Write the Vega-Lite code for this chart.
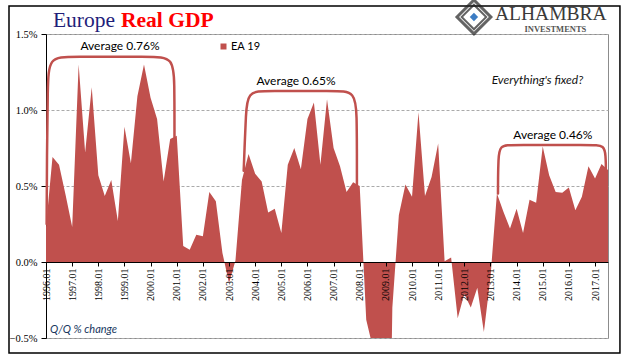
{
  "$schema": "https://vega.github.io/schema/vega-lite/v6.json",
  "width": 562,
  "height": 304,
  "autosize": {"type": "none"},
  "padding": {"left": 46, "top": 34, "right": 33, "bottom": 23},
  "background": "white",
  "config": {"view": {"stroke": "#8c8c8c", "strokeWidth": 1}},
  "datasets": {
    "gdp": [
      {"date": "1996-01-01", "value": 0.23}, {"date": "1996-04-01", "value": 0.69}, {"date": "1996-07-01", "value": 0.64}, {"date": "1996-10-01", "value": 0.44},
      {"date": "1997-01-01", "value": 0.23}, {"date": "1997-04-01", "value": 1.30}, {"date": "1997-07-01", "value": 0.72}, {"date": "1997-10-01", "value": 1.15},
      {"date": "1998-01-01", "value": 0.57}, {"date": "1998-04-01", "value": 0.435}, {"date": "1998-07-01", "value": 0.54}, {"date": "1998-10-01", "value": 0.27},
      {"date": "1999-01-01", "value": 0.89}, {"date": "1999-04-01", "value": 0.65}, {"date": "1999-07-01", "value": 1.09}, {"date": "1999-10-01", "value": 1.30},
      {"date": "2000-01-01", "value": 1.08}, {"date": "2000-04-01", "value": 0.94}, {"date": "2000-07-01", "value": 0.53}, {"date": "2000-10-01", "value": 0.81},
      {"date": "2001-01-01", "value": 0.83}, {"date": "2001-04-01", "value": 0.105}, {"date": "2001-07-01", "value": 0.08}, {"date": "2001-10-01", "value": 0.18},
      {"date": "2002-01-01", "value": 0.17}, {"date": "2002-04-01", "value": 0.46}, {"date": "2002-07-01", "value": 0.40}, {"date": "2002-10-01", "value": 0.06},
      {"date": "2003-01-01", "value": -0.14}, {"date": "2003-04-01", "value": 0.01}, {"date": "2003-07-01", "value": 0.54}, {"date": "2003-10-01", "value": 0.71},
      {"date": "2004-01-01", "value": 0.58}, {"date": "2004-04-01", "value": 0.53}, {"date": "2004-07-01", "value": 0.325}, {"date": "2004-10-01", "value": 0.35},
      {"date": "2005-01-01", "value": 0.19}, {"date": "2005-04-01", "value": 0.64}, {"date": "2005-07-01", "value": 0.75}, {"date": "2005-10-01", "value": 0.61},
      {"date": "2006-01-01", "value": 0.94}, {"date": "2006-04-01", "value": 1.05}, {"date": "2006-07-01", "value": 0.64}, {"date": "2006-10-01", "value": 1.07},
      {"date": "2007-01-01", "value": 0.75}, {"date": "2007-04-01", "value": 0.63}, {"date": "2007-07-01", "value": 0.46}, {"date": "2007-10-01", "value": 0.525},
      {"date": "2008-01-01", "value": 0.50}, {"date": "2008-04-01", "value": -0.38}, {"date": "2008-07-01", "value": -0.56}, {"date": "2008-10-01", "value": -1.7},
      {"date": "2009-01-01", "value": -3.0}, {"date": "2009-04-01", "value": -0.3}, {"date": "2009-07-01", "value": 0.31}, {"date": "2009-10-01", "value": 0.51},
      {"date": "2010-01-01", "value": 0.43}, {"date": "2010-04-01", "value": 0.985}, {"date": "2010-07-01", "value": 0.435}, {"date": "2010-10-01", "value": 0.56},
      {"date": "2011-01-01", "value": 0.78}, {"date": "2011-04-01", "value": 0.005}, {"date": "2011-07-01", "value": 0.03}, {"date": "2011-10-01", "value": -0.37},
      {"date": "2012-01-01", "value": -0.21}, {"date": "2012-04-01", "value": -0.30}, {"date": "2012-07-01", "value": -0.17}, {"date": "2012-10-01", "value": -0.46},
      {"date": "2013-01-01", "value": -0.10}, {"date": "2013-04-01", "value": 0.45}, {"date": "2013-07-01", "value": 0.33}, {"date": "2013-10-01", "value": 0.22},
      {"date": "2014-01-01", "value": 0.35}, {"date": "2014-04-01", "value": 0.19}, {"date": "2014-07-01", "value": 0.41}, {"date": "2014-10-01", "value": 0.39},
      {"date": "2015-01-01", "value": 0.76}, {"date": "2015-04-01", "value": 0.57}, {"date": "2015-07-01", "value": 0.46}, {"date": "2015-10-01", "value": 0.455},
      {"date": "2016-01-01", "value": 0.49}, {"date": "2016-04-01", "value": 0.34}, {"date": "2016-07-01", "value": 0.43}, {"date": "2016-10-01", "value": 0.63},
      {"date": "2017-01-01", "value": 0.55}, {"date": "2017-04-01", "value": 0.645}, {"date": "2017-07-01", "value": 0.605}
    ],
    "brackets": [
      {"period": "1996-2000", "order": 1, "date": "1996-01-10", "value": 0.25},
      {"period": "1996-2000", "order": 2, "date": "1996-01-14", "value": 0.70},
      {"period": "1996-2000", "order": 3, "date": "1996-01-25", "value": 1.15},
      {"period": "1996-2000", "order": 4, "date": "1996-02-10", "value": 1.35},
      {"period": "1996-2000", "order": 5, "date": "1996-12-01", "value": 1.35},
      {"period": "1996-2000", "order": 6, "date": "2000-01-10", "value": 1.35},
      {"period": "1996-2000", "order": 7, "date": "2000-11-20", "value": 1.35},
      {"period": "1996-2000", "order": 8, "date": "2000-11-28", "value": 1.15},
      {"period": "1996-2000", "order": 9, "date": "2000-11-30", "value": 1.00},
      {"period": "1996-2000", "order": 10, "date": "2000-11-30", "value": 0.82},
      {"period": "2003-2007", "order": 1, "date": "2003-07-25", "value": 0.60},
      {"period": "2003-2007", "order": 2, "date": "2003-08-10", "value": 0.80},
      {"period": "2003-2007", "order": 3, "date": "2003-08-25", "value": 0.95},
      {"period": "2003-2007", "order": 4, "date": "2003-09-10", "value": 1.125},
      {"period": "2003-2007", "order": 5, "date": "2004-06-15", "value": 1.125},
      {"period": "2003-2007", "order": 6, "date": "2007-01-10", "value": 1.125},
      {"period": "2003-2007", "order": 7, "date": "2007-11-05", "value": 1.125},
      {"period": "2003-2007", "order": 8, "date": "2007-11-20", "value": 0.95},
      {"period": "2003-2007", "order": 9, "date": "2007-11-23", "value": 0.75},
      {"period": "2003-2007", "order": 10, "date": "2007-11-23", "value": 0.51},
      {"period": "2013-2017", "order": 1, "date": "2013-04-16", "value": 0.45},
      {"period": "2013-2017", "order": 2, "date": "2013-04-16", "value": 0.55},
      {"period": "2013-2017", "order": 3, "date": "2013-04-22", "value": 0.67},
      {"period": "2013-2017", "order": 4, "date": "2013-05-05", "value": 0.77},
      {"period": "2013-2017", "order": 5, "date": "2013-11-10", "value": 0.77},
      {"period": "2013-2017", "order": 6, "date": "2016-11-05", "value": 0.77},
      {"period": "2013-2017", "order": 7, "date": "2017-05-15", "value": 0.77},
      {"period": "2013-2017", "order": 8, "date": "2017-05-28", "value": 0.69},
      {"period": "2013-2017", "order": 9, "date": "2017-06-01", "value": 0.65},
      {"period": "2013-2017", "order": 10, "date": "2017-06-01", "value": 0.60}
    ]
  },
  "encoding": {
    "x": {
      "field": "date",
      "type": "temporal",
      "scale": {
        "type": "utc",
        "nice": false,
        "domain": [{"year": 1996, "month": 1, "date": 1, "utc": true}, {"year": 2017, "month": 7, "date": 1, "utc": true}]
      },
      "axis": {
        "title": null,
        "format": "%Y.%m",
        "tickCount": {"interval": "year", "step": 1},
        "labelAngle": -90,
        "labelFont": "Liberation Serif",
        "labelFontSize": 10,
        "labelColor": "#000",
        "labelFlush": false,
        "labelOverlap": false,
        "labelBound": false,
        "labelPadding": 2,
        "tickSize": 4,
        "tickColor": "#000",
        "domainColor": "#000",
        "grid": false,
        "offset": -76,
        "zindex": 1
      }
    },
    "y": {
      "field": "value",
      "type": "quantitative",
      "stack": null,
      "scale": {"domain": [-0.5, 1.5], "nice": false, "zero": false},
      "axis": {
        "title": null,
        "values": [-0.5, 0, 0.5, 1, 1.5],
        "labelExpr": "format(datum.value, '.1f') + '%'",
        "labelFont": "Liberation Serif",
        "labelFontSize": 10.5,
        "labelColor": "#000",
        "labelPadding": 4,
        "tickSize": 5,
        "tickColor": "#000",
        "domainColor": "#000",
        "grid": true,
        "gridColor": "#aaaaaa",
        "gridDash": [3, 2],
        "gridWidth": 1
      }
    }
  },
  "layer": [
    {
      "data": {"values": [{"date": "1994-08-02", "date2": "2017-12-15", "value": 1.684, "value2": -0.599}]},
      "mark": {"type": "rect", "fillOpacity": 0, "stroke": "#000", "strokeWidth": 1.5},
      "encoding": {
        "x2": {"field": "date2"},
        "y2": {"field": "value2"}
      }
    },
    {
      "data": {"name": "gdp"},
      "mark": {"type": "area", "clip": true, "interpolate": "linear"},
      "encoding": {
        "color": {
          "datum": "EA 19",
          "type": "nominal",
          "scale": {"range": ["#C0504D"]},
          "legend": {
            "orient": "none",
            "legendX": 172,
            "legendY": 7,
            "title": null,
            "symbolType": "square",
            "symbolSize": 36,
            "symbolStrokeWidth": 0,
            "labelFont": "Lato",
            "labelFontSize": 11,
            "labelColor": "#000",
            "labelOffset": 2,
            "padding": 0
          }
        }
      }
    },
    {
      "data": {"name": "brackets"},
      "mark": {"type": "line", "interpolate": "basis", "color": "#C0504D", "strokeWidth": 2.5, "strokeCap": "round"},
      "encoding": {
        "detail": {"field": "period"},
        "order": {"field": "order", "type": "quantitative"}
      }
    },
    {
      "data": {"values": [
        {"label": "Average 0.76%", "date": "1998-10-31", "value": 1.395},
        {"label": "Average 0.65%", "date": "2005-07-25", "value": 1.165},
        {"label": "Average 0.46%", "date": "2015-05-23", "value": 0.81}
      ]},
      "mark": {"type": "text", "font": "Lato", "fontSize": 12, "color": "#000", "align": "center", "baseline": "alphabetic"},
      "encoding": {"text": {"field": "label"}}
    },
    {
      "data": {"values": [{"label": "Everything's fixed?", "date": "2014-10-19", "value": 1.17}]},
      "mark": {"type": "text", "font": "Lato", "fontSize": 12, "fontStyle": "italic", "color": "#111", "align": "center", "baseline": "alphabetic"},
      "encoding": {"text": {"field": "label"}}
    },
    {
      "data": {"values": [{"label": "Q/Q % change", "date": "1996-02-26", "value": -0.467}]},
      "mark": {"type": "text", "font": "Lato", "fontSize": 11, "fontStyle": "italic", "color": "#17375E", "align": "left", "baseline": "alphabetic"},
      "encoding": {"text": {"field": "label"}}
    },
    {
      "data": {"values": [{"label": "Europe", "date": "1998-10-03", "value": 1.548}]},
      "mark": {"type": "text", "font": "Liberation Serif", "fontSize": 21.5, "color": "#1F1F7A", "align": "right", "baseline": "alphabetic", "dx": -3},
      "encoding": {"text": {"field": "label"}}
    },
    {
      "data": {"values": [{"label": "Real GDP", "date": "1998-10-03", "value": 1.548}]},
      "mark": {"type": "text", "font": "Liberation Serif", "fontSize": 21.5, "fontWeight": "bold", "color": "#FF0000", "align": "left", "baseline": "alphabetic", "dx": 3},
      "encoding": {"text": {"field": "label"}}
    },
    {
      "data": {"values": [{"label": "ALHAMBRA", "date": "2013-03-05", "value": 1.59}]},
      "mark": {"type": "text", "font": "Liberation Serif", "fontSize": 19.5, "color": "#3a3a3a", "align": "left", "baseline": "alphabetic"},
      "encoding": {"text": {"field": "label"}}
    },
    {
      "data": {"values": [{"label": "INVESTMENTS", "date": "2015-06-27", "value": 1.512}]},
      "mark": {"type": "text", "font": "Liberation Serif", "fontSize": 8.5, "fontWeight": "bold", "color": "#555", "align": "center", "baseline": "alphabetic"},
      "encoding": {"text": {"field": "label"}}
    },
    {
      "data": {"values": [{"label": "logo", "date": "2012-05-15", "value": 1.612}]},
      "mark": {"type": "point", "shape": "diamond", "size": 1150, "filled": false, "stroke": "#222", "strokeWidth": 3},
      "encoding": {}
    },
    {
      "data": {"values": [{"label": "logo", "date": "2012-05-15", "value": 1.612}]},
      "mark": {"type": "point", "shape": "square", "size": 300, "angle": 45, "filled": false, "stroke": "#222", "strokeWidth": 2},
      "encoding": {}
    },
    {
      "data": {"values": [{"label": "logo", "date": "2012-05-15", "value": 1.612}]},
      "mark": {"type": "point", "shape": "diamond", "size": 70, "filled": true, "color": "#3C7DC4", "opacity": 1},
      "encoding": {}
    }
  ]
}
